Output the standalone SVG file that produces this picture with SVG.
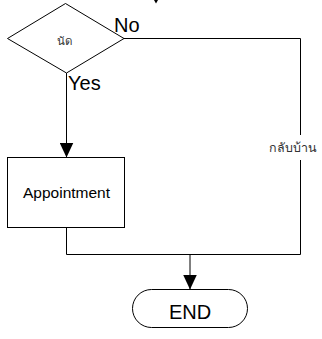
<svg xmlns="http://www.w3.org/2000/svg" width="322" height="339" viewBox="0 0 322 339">
  <defs>
    <marker id="arrow" markerWidth="15" markerHeight="14" refX="15" refY="7" orient="auto" markerUnits="userSpaceOnUse" viewBox="0 0 15 14">
      <path d="M0,0 L15,7 L0,14 Z" fill="#000"/>
    </marker>
  </defs>
  <style>
    .shape { fill: #fff; stroke: #000; stroke-width: 1; }
    .line { fill: none; stroke: #000; stroke-width: 1; }
    .lbl { font-family: "Liberation Sans", Arial, sans-serif; fill: #000; }
    .thai { font-family: "Liberation Sans", "Noto Sans", sans-serif; fill: #333; }
  </style>
  <rect width="322" height="339" fill="#fff"/>

  <!-- connectors -->
  <g id="connectors">
    <!-- incoming from above -->
    <path d="M154,0 L158,0 L156,3.5 Z" fill="#000"/>
    <!-- Yes: decision to Appointment -->
    <line class="line" x1="66.5" y1="73" x2="66.5" y2="157.5" marker-end="url(#arrow)"/>
    <!-- No: decision to the right, down, then to END -->
    <polyline class="line" points="124,38.5 300.5,38.5 300.5,254.5 190,254.5"/>
    <!-- Appointment down to the merge -->
    <polyline class="line" points="66.5,227 66.5,254.5 190,254.5"/>
    <line class="line" x1="190" y1="254.5" x2="190" y2="289.5" marker-end="url(#arrow)"/>
    <!-- label on the No branch -->
    <rect x="268" y="135" width="52" height="25" fill="#fff"/>
    <text class="thai" x="269" y="152" font-size="12.5">กลับบ้าน</text>
    <text class="lbl" x="114" y="32" font-size="20">No</text>
    <text class="lbl" x="68" y="90" font-size="20">Yes</text>
  </g>

  <!-- decision -->
  <g id="decision">
    <polygon class="shape" points="65.5,3.5 124,38.5 66.5,73 7.5,38.5"/>
    <text class="thai" x="64" y="45" font-size="11.5" text-anchor="middle">นัด</text>
  </g>

  <!-- process -->
  <g id="appointment">
    <rect class="shape" x="7.5" y="157.5" width="117" height="70"/>
    <text class="lbl" x="66.5" y="198" font-size="15.5" text-anchor="middle">Appointment</text>
  </g>

  <!-- terminator -->
  <g id="end">
    <rect class="shape" x="132.5" y="289.5" width="115" height="38" rx="19" ry="19"/>
    <text class="lbl" x="190" y="319" font-size="20" text-anchor="middle">END</text>
  </g>
</svg>
